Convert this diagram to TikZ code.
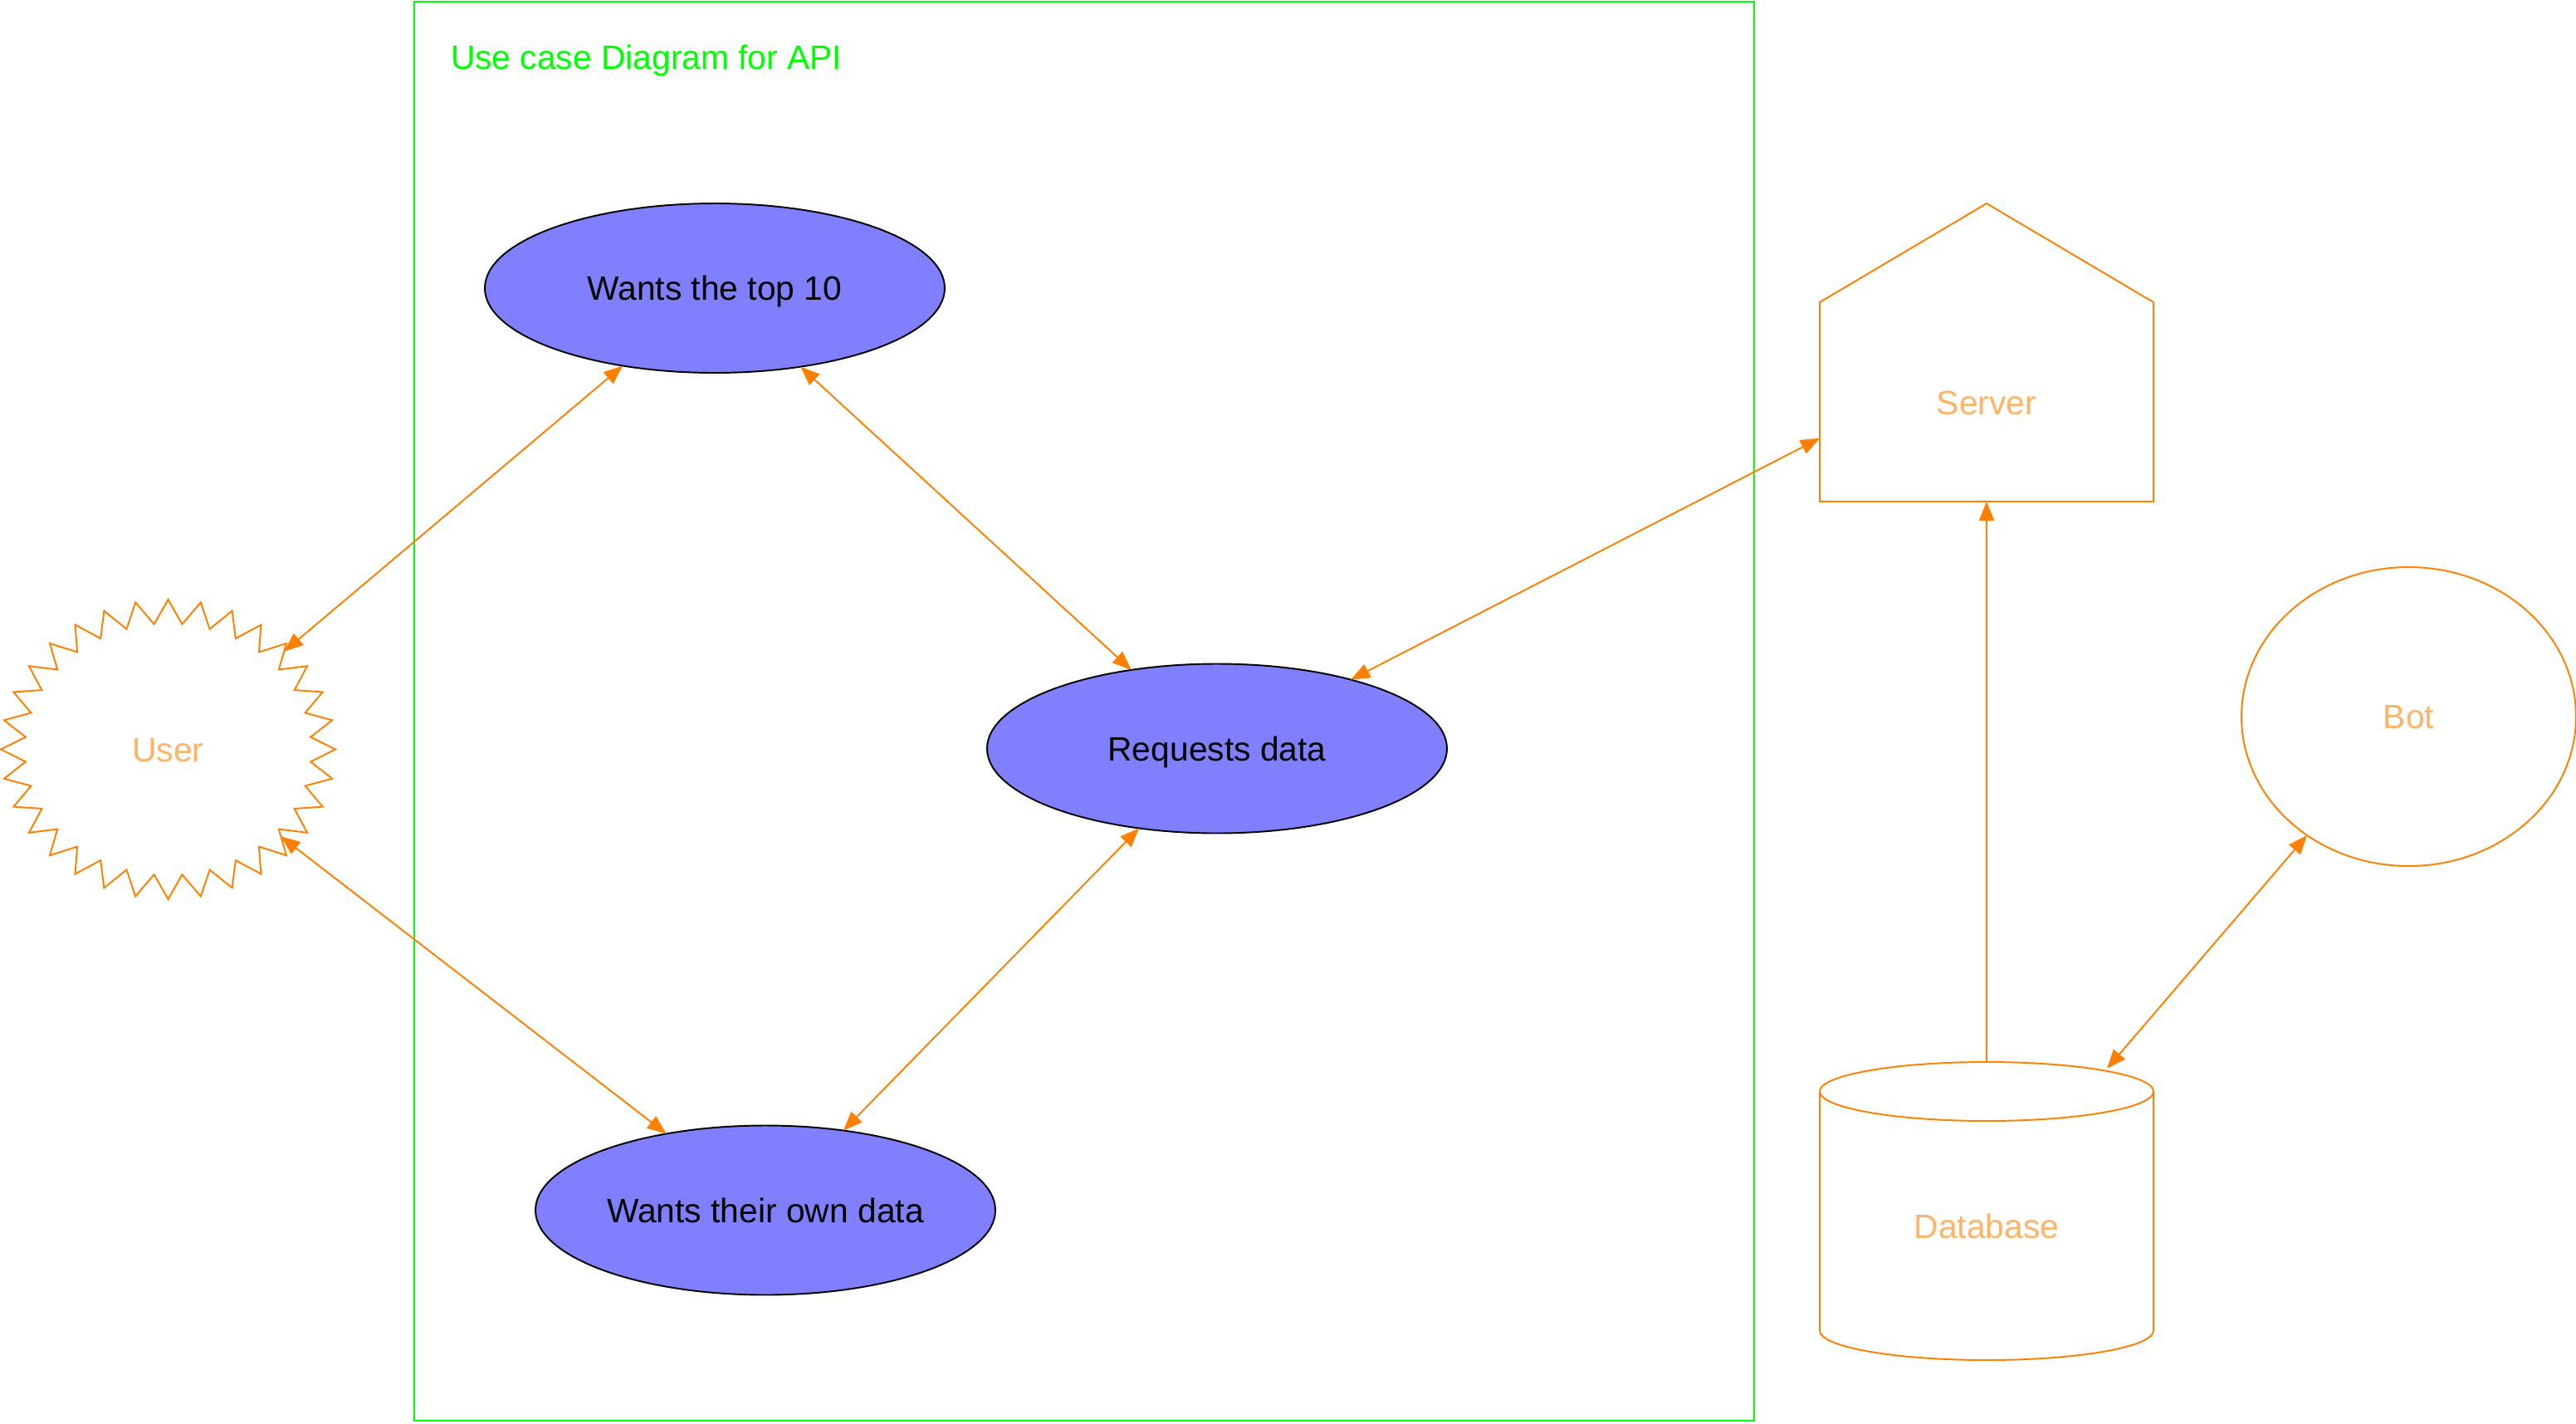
\documentclass[tikz,border=0pt]{standalone}
\usepackage{fontspec}
\setmainfont{Liberation Sans}
\usetikzlibrary{shapes.geometric,shapes.symbols,arrows.meta}
\definecolor{caseblue}{HTML}{8080FF}
\definecolor{actororange}{HTML}{FF8000}
\definecolor{actortext}{HTML}{FFB366}
\definecolor{framegreen}{HTML}{00FF00}
\begin{document}
\begin{tikzpicture}[inner sep=0pt,outer sep=0pt,line width=0.55pt,
font=\fontsize{11.6}{14}\selectfont,text height=0.294cm,text depth=0pt,
usecase/.style={draw=black,fill=caseblue,ellipse,minimum width=5.54cm,minimum height=2.04cm},
actor/.style={draw=actororange,text=actortext},
link/.style={color=actororange,{Triangle[length=2.3mm,width=1.8mm]}-{Triangle[length=2.3mm,width=1.8mm]}},
uplink/.style={color=actororange,-{Triangle[length=2.3mm,width=1.8mm]}}]
\useasboundingbox (0,0) rectangle (31.03,-17.14);
% system boundary
\draw[framegreen,line width=0.6pt] (4.99,-0.02) rectangle (21.13,-17.11);
\draw (5.43,-0.83) node[anchor=base west,text=framegreen] (title) {Use case Diagram for API};
% use cases
\draw (8.61,-3.47) node[usecase] (top) {Wants the top 10};
\draw (14.66,-9.015) node[usecase] (req) {Requests data};
\draw (9.22,-14.575) node[usecase] (own) {Wants their own data};
% actors
\draw (2.025,-9.025) node[actor,starburst,starburst points=32,random starburst=0,starburst point height=0.29cm,minimum width=4.03cm,minimum height=3.61cm] (user) {User};
\draw (29.015,-8.63) node[actor,ellipse,minimum width=4.03cm,minimum height=3.6cm] (bot) {Bot};
\draw (23.93,-4.245) node[minimum width=4.02cm,minimum height=3.59cm,label={[text=actortext,yshift=-0.6cm]center:Server}] (server) {};
\draw[actororange] (server.south west) -- (server.south east) -- ([yshift=-1.19cm]server.north east) -- (server.north) -- ([yshift=-1.19cm]server.north west) -- cycle;
\draw (23.93,-14.585) node[minimum width=4.02cm,minimum height=3.59cm,label={[text=actortext,yshift=-0.185cm]center:Database}] (db) {};
\draw[actororange] ([yshift=-0.355cm]db.north) ellipse[x radius=2.01cm,y radius=0.355cm];
\draw[actororange] ([yshift=-0.355cm]db.north west) -- ([yshift=0.355cm]db.south west) arc[start angle=180,end angle=360,x radius=2.01cm,y radius=0.355cm] -- ([yshift=-0.355cm]db.north east);
\coordinate (dbrim) at (25.38,-12.87);
% connectors
\draw[link] (top) -- (user);
\draw[link] (own) -- (user);
\draw[link] (top) -- (req);
\draw[link] (req) -- (own);
\draw[link] (req) -- (server);
\draw[uplink] (db) -- (server);
\draw[link] (bot) -- (dbrim);
\end{tikzpicture}
\end{document}
